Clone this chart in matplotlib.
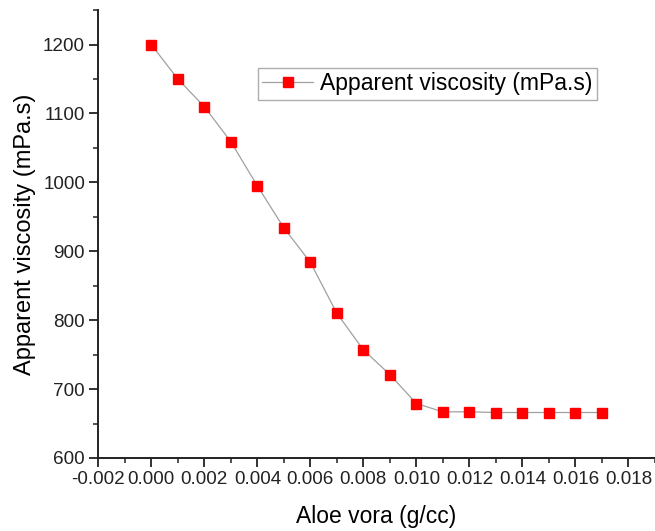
import matplotlib

matplotlib.use("Agg")
import matplotlib.pyplot as plt
from matplotlib.ticker import MultipleLocator, FormatStrFormatter

# values
aloe_conc = [0.000, 0.001, 0.002, 0.003, 0.004, 0.005, 0.006, 0.007, 0.008,
             0.009, 0.010, 0.011, 0.012, 0.013, 0.014, 0.015, 0.016, 0.017]
viscosity = [1200, 1150, 1110, 1059, 995, 934, 884, 810, 757,
             721, 679, 667, 667, 666, 666, 666, 666, 666]

plt.rcParams.update(
    {
        "font.family": ["Liberation Sans", "DejaVu Sans"],
        "font.size": 13,
    }
)

fig = plt.figure(figsize=(6.55, 5.31), dpi=100)
ax = fig.add_axes([0.150, 0.1375, 0.850, 0.8435])

ax.plot(aloe_conc, viscosity, color="#a0a0a0", lw=0.9, marker="s",
        markersize=7, markerfacecolor="#ff0000", markeredgecolor="#ff0000",
        label="Apparent viscosity (mPa.s)")

ax.set_xlim(-0.002, 0.019)
ax.set_ylim(600, 1250)
ax.xaxis.set_major_locator(MultipleLocator(0.002))
ax.xaxis.set_minor_locator(MultipleLocator(0.001))
ax.xaxis.set_major_formatter(FormatStrFormatter("%.3f"))
ax.yaxis.set_major_locator(MultipleLocator(100))
ax.yaxis.set_minor_locator(MultipleLocator(50))

for side in ("top", "right"):
    ax.spines[side].set_visible(False)
for side in ("left", "bottom"):
    ax.spines[side].set_linewidth(1.4)
    ax.spines[side].set_color("#222222")
ax.tick_params(which="major", length=6.5, width=1.3, direction="out", labelsize=13.6,
               colors="#222222", pad=3)
ax.tick_params(which="minor", length=3.5, width=1.1, direction="out", colors="#222222")

ax.set_xlabel("Aloe vora (g/cc)", fontsize=16.5, labelpad=12)
ax.set_ylabel("Apparent viscosity (mPa.s)", fontsize=17, labelpad=5)

leg = ax.legend(loc="upper left", bbox_to_anchor=(0.2865, 0.871), fontsize=16.5,
                frameon=True, fancybox=False, borderpad=0.2, handlelength=2.2,
                handletextpad=0.3, borderaxespad=0)
leg.get_frame().set_edgecolor("#999999")
leg.get_frame().set_linewidth(1.0)

fig.savefig("out.png", dpi=100)
